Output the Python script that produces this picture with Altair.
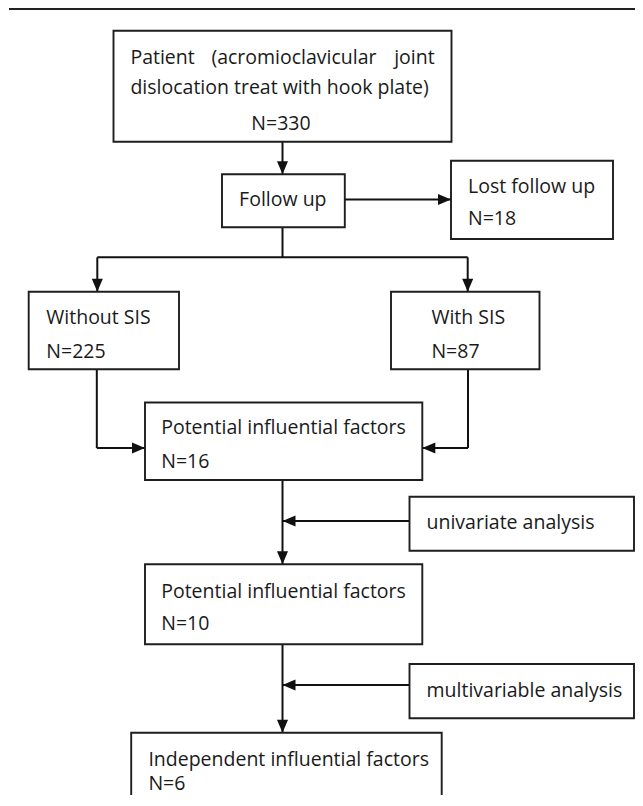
import altair as alt
import pandas as pd

# ---------------- content ----------------
patient_line1 = ["Patient", "(acromioclavicular", "joint"]
patient_line2 = "dislocation treat with hook plate)"
box_ids = ["patient", "follow", "lost", "without", "with",
           "pot16", "univ", "pot10", "multi", "indep"]
box_titles = [None, "Follow up", "Lost follow up", "Without SIS", "With SIS",
              "Potential influential factors", "univariate analysis",
              "Potential influential factors", "multivariable analysis",
              "Independent influential factors"]
box_counts = [330, None, 18, 225, 87, 16, None, 10, None, 6]

# ---------------- layout (page pixels) ----------------
X_MAX = 635
Y_MAX = 795
box_x1 = [113.5, 222.0, 451.0, 28.7, 391.0, 145.0, 409.5, 145.0, 409.5, 131.2]
box_x2 = [451.5, 344.8, 613.0, 179.0, 539.5, 422.3, 634.0, 422.3, 634.0, 441.7]
box_y1 = [30.7, 174.3, 160.7, 291.7, 291.7, 402.5, 496.7, 564.3, 664.0, 732.7]
box_y2 = [141.7, 227.3, 239.0, 369.3, 369.3, 480.0, 550.7, 644.3, 718.3, 820.0]
text_x = [130.4, 282.8, 468.0, 46.3, 431.4, 161.2, 426.5, 161.2, 426.5, 148.4]
title_y = [58.0, 200.0, 186.7, 318.3, 318.3, 428.3, 523.3, 591.7, 691.0, 759.5]
count_y = [124.0, None, 219.3, 351.7, 351.7, 462.3, None, 624.0, None, 784.0]

# connector segments: x, y, x2, y2
seg_x1 = [282.5, 344.8, 282.5, 97.3, 97.3, 467.7, 96.8, 96.8, 468.0, 468.0, 282.5, 409.5, 282.5, 409.5]
seg_y1 = [141.7, 199.5, 227.3, 257.3, 257.3, 257.3, 369.3, 448.0, 369.3, 448.0, 480.0, 521.0, 644.3, 685.0]
seg_x2 = [282.5, 451.0, 282.5, 467.7, 97.3, 467.7, 96.8, 145.0, 468.0, 422.3, 282.5, 282.5, 282.5, 282.5]
seg_y2 = [174.3, 199.5, 257.3, 257.3, 291.7, 291.7, 448.0, 448.0, 448.0, 448.0, 564.3, 521.0, 732.7, 685.0]
# arrow heads: tip position and direction
tip_x = [282.5, 451.0, 97.3, 467.7, 145.0, 422.3, 282.5, 282.5, 282.5, 282.5]
tip_y = [174.3, 199.5, 291.7, 291.7, 448.0, 448.0, 564.3, 521.0, 732.7, 685.0]
tip_dir = ["down", "right", "down", "down", "right", "left", "down", "left", "down", "left"]

HEAD_LEN = 13.0
paths = {
    "down": "M-0.85,-1L0.85,-1L0,1Z",
    "right": "M-1,-0.85L-1,0.85L1,0Z",
    "left": "M1,-0.85L1,0.85L-1,0Z",
}
offs = {"down": (0, -HEAD_LEN / 2), "right": (-HEAD_LEN / 2, 0), "left": (HEAD_LEN / 2, 0)}

# ---------------- tables ----------------
boxes = pd.DataFrame({"id": box_ids, "x": box_x1, "x2": box_x2, "y": box_y1, "y2": box_y2})
segs = pd.DataFrame({"x": seg_x1, "y": seg_y1, "x2": seg_x2, "y2": seg_y2})
heads = pd.DataFrame({
    "x": [tx + offs[d][0] for tx, d in zip(tip_x, tip_dir)],
    "y": [ty + offs[d][1] for ty, d in zip(tip_y, tip_dir)],
    "shape": [paths[d] for d in tip_dir],
})

left_rows, center_rows, right_rows = [], [], []
# justified first line of the top box
left_rows.append({"x": 130.4, "y": 58.0, "t": patient_line1[0]})
center_rows.append({"x": 294.0, "y": 58.0, "t": patient_line1[1]})
right_rows.append({"x": 434.7, "y": 58.0, "t": patient_line1[2]})
left_rows.append({"x": 130.4, "y": 88.0, "t": patient_line2})
center_rows.append({"x": 281.0, "y": count_y[0], "t": f"N={box_counts[0]}"})
for i in range(1, len(box_ids)):
    if box_titles[i] is not None:
        row = {"x": text_x[i], "y": title_y[i], "t": box_titles[i]}
        (center_rows if box_ids[i] == "follow" else left_rows).append(row)
    if box_counts[i] is not None:
        left_rows.append({"x": text_x[i], "y": count_y[i], "t": f"N={box_counts[i]}"})

XS = alt.Scale(domain=[8, X_MAX], nice=False, zero=False)
YS = alt.Scale(domain=[8, Y_MAX], nice=False, zero=False, reverse=True)

def X(f="x"):
    return alt.X(f"{f}:Q", scale=XS, axis=None)

def Y(f="y"):
    return alt.Y(f"{f}:Q", scale=YS, axis=None)

top_rule = alt.Chart(pd.DataFrame({"x": [9.0], "x2": [float(X_MAX)], "y": [9.0]})).mark_rule(
    color="#222222", strokeWidth=2.2
).encode(x=X(), x2="x2:Q", y=Y())

rects = alt.Chart(boxes).mark_rect(fill="white", stroke="#1e1e1e", strokeWidth=1.9).encode(
    x=X(), x2="x2:Q", y=Y(), y2="y2:Q"
)

lines = alt.Chart(segs).mark_rule(color="#111111", strokeWidth=2.0).encode(
    x=X(), x2="x2:Q", y=Y(), y2="y2:Q"
)

arrows = alt.Chart(heads).mark_point(filled=True, color="#111111", opacity=1, size=HEAD_LEN ** 2).encode(
    x=X(), y=Y(), shape=alt.Shape("shape:N", scale=None)
)

def txt(rows, align):
    return alt.Chart(pd.DataFrame(rows)).mark_text(
        align=align, baseline="middle", font="Open Sans", fontSize=19.5, color="#1a1a1a"
    ).encode(x=X(), y=Y(), text="t:N")

chart = alt.layer(
    top_rule, lines, rects, arrows,
    txt(left_rows, "left"), txt(center_rows, "center"), txt(right_rows, "right"),
).properties(
    width=X_MAX - 8, height=Y_MAX - 8, autosize=alt.AutoSizeParams(type="none"), padding=0
).configure_view(stroke=None)

chart.save("out.html", embed_options={"renderer": "svg", "actions": False})
